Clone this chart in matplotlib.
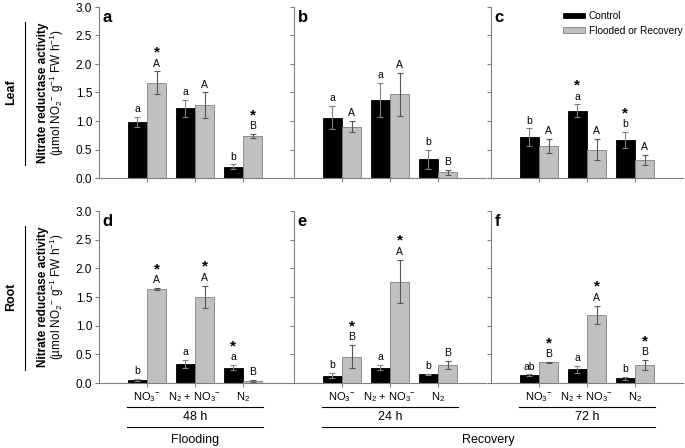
import numpy as np
import matplotlib
matplotlib.use('Agg')
import matplotlib.pyplot as plt
from matplotlib.lines import Line2D

plt.rcParams['font.family'] = ['Liberation Sans', 'DejaVu Sans']
plt.rcParams['mathtext.fontset'] = 'custom'
plt.rcParams['mathtext.rm'] = 'Liberation Sans'
plt.rcParams['mathtext.it'] = 'Liberation Sans:italic'
plt.rcParams['mathtext.bf'] = 'Liberation Sans:bold'

# treatments on the x axis
categories = ['NO$_3$$^{-}$', 'N$_2$ + NO$_3$$^{-}$', 'N$_2$']
times = ['48 h', '24 h', '72 h']
panel_letters = [['a', 'b', 'c'], ['d', 'e', 'f']]

# rows: 48 h (flooding), 24 h (recovery), 72 h (recovery)
leaf_ctrl = [[0.98, 1.22, 0.20], [1.06, 1.37, 0.33], [0.72, 1.18, 0.67]]
leaf_ctrl_err = [[0.09, 0.15, 0.04], [0.20, 0.30, 0.17], [0.15, 0.11, 0.14]]
leaf_trt = [[1.67, 1.28, 0.74], [0.90, 1.47, 0.10], [0.56, 0.50, 0.31]]
leaf_trt_err = [[0.20, 0.22, 0.03], [0.10, 0.38, 0.04], [0.13, 0.18, 0.09]]

root_ctrl = [[0.05, 0.33, 0.27], [0.13, 0.27, 0.15], [0.14, 0.24, 0.08]]
root_ctrl_err = [[0.015, 0.07, 0.04], [0.04, 0.05, 0.01], [0.01, 0.06, 0.02]]
root_trt = [[1.64, 1.50, 0.03], [0.46, 1.77, 0.31], [0.36, 1.19, 0.31]]
root_trt_err = [[0.02, 0.20, 0.02], [0.20, 0.38, 0.07], [0.01, 0.16, 0.09]]

leaf_ctrl_let = [['a', 'a', 'b'], ['a', 'a', 'b'], ['b', 'a', 'b']]
leaf_trt_let = [['A', 'A', 'B'], ['A', 'A', 'B'], ['A', 'A', 'A']]
root_ctrl_let = [['b', 'a', 'a'], ['b', 'a', 'b'], ['ab', 'a', 'b']]
root_trt_let = [['A', 'A', 'B'], ['B', 'A', 'B'], ['B', 'A', 'B']]

leaf_ctrl_star = [[0, 0, 0], [0, 0, 0], [0, 1, 1]]
leaf_trt_star = [[1, 0, 1], [0, 0, 0], [0, 0, 0]]
root_ctrl_star = [[0, 0, 1], [0, 0, 0], [0, 0, 0]]
root_trt_star = [[1, 1, 0], [1, 1, 0], [1, 1, 1]]

W, H = 685, 448
GREY = '#808080'
LIGHT = '#c0c0c0'
fig = plt.figure(figsize=(W / 100, H / 100), dpi=100)

lefts = [99, 294, 491]
axw = 192
rows = [(7, 178), (211, 383)]

data = [
    (leaf_ctrl, leaf_ctrl_err, leaf_trt, leaf_trt_err,
     leaf_ctrl_let, leaf_trt_let, leaf_ctrl_star, leaf_trt_star),
    (root_ctrl, root_ctrl_err, root_trt, root_trt_err,
     root_ctrl_let, root_trt_let, root_ctrl_star, root_trt_star),
]

x = np.arange(len(categories))
bw = 0.4
axes = [[None] * 3 for _ in range(2)]


def annotate(ax, xs, tops, lets, stars):
    for xi, t, l, s in zip(xs, tops, lets, stars):
        ax.annotate(l, (xi, t), xytext=(0, 2), textcoords='offset points',
                    ha='center', va='bottom', fontsize=7.5)
        if s:
            ax.annotate('*', (xi, t), xytext=(0, 8.5), textcoords='offset points',
                        ha='center', va='bottom', fontsize=11, fontweight='bold')


for r, (top, bot) in enumerate(rows):
    c_m, c_e, t_m, t_e, c_l, t_l, c_s, t_s = data[r]
    for c in range(3):
        ax = fig.add_axes([lefts[c] / W, (H - bot) / H, axw / W, (bot - top) / H])
        axes[r][c] = ax
        ax.bar(x - bw / 2, c_m[c], bw, color='black', edgecolor='black', linewidth=0.6,
               label='Control')
        ax.bar(x + bw / 2, t_m[c], bw, color=LIGHT, edgecolor=GREY, linewidth=0.6,
               label='Flooded or Recovery')
        ax.errorbar(x - bw / 2, c_m[c], yerr=c_e[c], fmt='none', ecolor=GREY,
                    elinewidth=0.8, capsize=2.5, capthick=0.8)
        ax.errorbar(x + bw / 2, t_m[c], yerr=t_e[c], fmt='none', ecolor='#555555',
                    elinewidth=0.8, capsize=2.5, capthick=0.8)
        annotate(ax, x - bw / 2, np.array(c_m[c]) + np.array(c_e[c]), c_l[c], c_s[c])
        annotate(ax, x + bw / 2, np.array(t_m[c]) + np.array(t_e[c]), t_l[c], t_s[c])

        ax.set_xlim(-1, 3)
        ax.set_ylim(0, 3.0)
        ax.set_yticks(np.arange(0, 3.01, 0.5))
        for s in ['top', 'right']:
            ax.spines[s].set_visible(False)
        for s in ['left', 'bottom']:
            ax.spines[s].set_color(GREY)
            ax.spines[s].set_linewidth(0.8)
        ax.tick_params(axis='both', direction='out', length=3, width=0.8, color=GREY,
                       labelsize=8.5, pad=2)
        ax.set_xticks(x)
        if r == 1:
            ax.set_xticklabels(categories, fontsize=8)
            ax.tick_params(axis='x', pad=2)
        else:
            ax.set_xticklabels([])
        if c == 0:
            ax.yaxis.set_major_formatter(plt.FormatStrFormatter('%.1f'))
        else:
            ax.set_yticklabels([])
        ax.text(0.02, 0.985, panel_letters[r][c], transform=ax.transAxes, ha='left',
                va='top', fontsize=12, fontweight='bold')

    # y labels and organ names
    yc = 1 - (top + bot) / 2 / H
    fig.text(43 / W, yc, 'Nitrate reductase activity', rotation=90, ha='center',
             va='center', fontsize=8.5, fontweight='bold')
    fig.text(57 / W, yc, r'(µmol NO$_2$$^{-}$ g$^{-1}$ FW h$^{-1}$)', rotation=90,
             ha='center', va='center', fontsize=8.5)
    fig.text(11 / W, yc, ['Leaf', 'Root'][r], rotation=90, ha='center', va='center',
             fontsize=9, fontweight='bold')
    fig.add_artist(Line2D([25 / W, 25 / W], [1 - (top + 15) / H, 1 - (bot - 13) / H],
                          color='black', linewidth=0.8))

axes[0][2].legend(loc='upper left', bbox_to_anchor=(558 / W, 1 - 6 / H),
                  bbox_transform=fig.transFigure, frameon=False, fontsize=7.3,
                  handlelength=2.2, handleheight=0.5, handletextpad=0.35,
                  labelspacing=0.45, borderpad=0)


def fig_x(ax, xd):
    return fig.transFigure.inverted().transform(ax.transData.transform((xd, 0)))[0]


y1 = 1 - 407 / H
y2 = 1 - 427 / H
for c in range(3):
    ax = axes[1][c]
    xa, xb = fig_x(ax, -0.42), fig_x(ax, 2.42)
    fig.add_artist(Line2D([xa, xb], [y1, y1], color='black', linewidth=0.8))
    fig.text((xa + xb) / 2, 1 - 417 / H, times[c], ha='center', va='center', fontsize=9)

groups = [('Flooding', 0, 0), ('Recovery', 1, 2)]
for name, c0, c1 in groups:
    xa, xb = fig_x(axes[1][c0], -0.42), fig_x(axes[1][c1], 2.42)
    fig.add_artist(Line2D([xa, xb], [y2, y2], color='black', linewidth=0.8))
    fig.text((xa + xb) / 2, 1 - 440 / H, name, ha='center', va='center', fontsize=9)

fig.savefig('out.png', dpi=100)
